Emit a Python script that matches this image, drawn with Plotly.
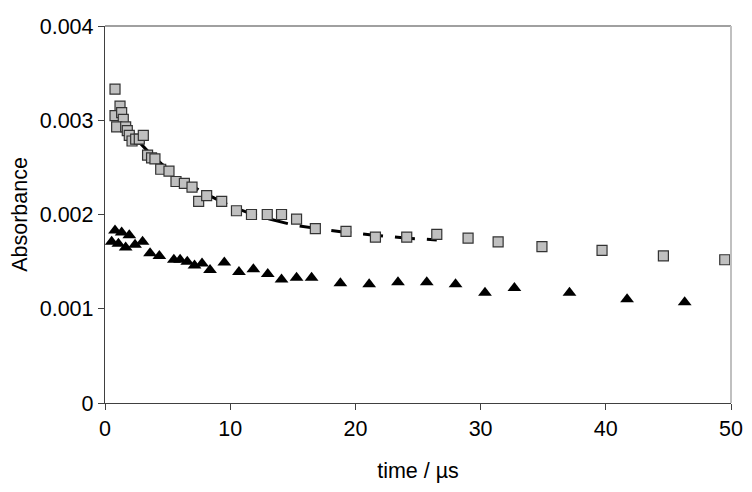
import plotly.graph_objects as go

# Squares (grey) series
sq_t = [0.8, 1.2, 0.8, 1.33, 1.46, 0.93, 1.65, 1.78, 1.94, 2.16, 2.45, 2.74, 3.06,
        3.4, 3.72, 3.99, 4.45, 5.11, 5.67, 6.34, 6.95, 7.48, 8.12, 9.32, 10.5,
        11.7, 12.96, 14.1, 15.3, 16.8, 19.25, 21.6, 24.1, 26.5, 29.0, 31.4,
        34.9, 39.7, 44.6, 49.5]
sq_a = [0.00333, 0.00315, 0.00305, 0.00308, 0.00301, 0.00293, 0.00293, 0.00289,
        0.00284, 0.00278, 0.00280, 0.00280, 0.00284, 0.00263, 0.00260, 0.00259,
        0.00248, 0.00246, 0.00235, 0.00233, 0.00229, 0.00214, 0.00220, 0.00214,
        0.00204, 0.00200, 0.00200, 0.00200, 0.00195, 0.00185, 0.00182, 0.00176,
        0.00176, 0.00179, 0.00175, 0.00171, 0.00166, 0.00162, 0.00156, 0.00152]

# Triangles (black) series
tr_t = [0.53, 0.8, 1.07, 1.33, 1.65, 1.94, 2.4, 3.0, 3.6, 4.34, 5.5, 6.0, 6.57,
        7.15, 7.75, 8.39, 9.53, 10.7, 11.85, 13.0, 14.1, 15.3, 16.5, 18.8, 21.1,
        23.4, 25.7, 28.0, 30.35, 32.7, 37.1, 41.7, 46.3]
tr_a = [0.00171, 0.00183, 0.00169, 0.00181, 0.00165, 0.00178, 0.00168, 0.00171,
        0.00159, 0.00156, 0.00152, 0.00152, 0.00150, 0.00146, 0.00148, 0.00141,
        0.00149, 0.00139, 0.00142, 0.00137, 0.00131, 0.00133, 0.00133, 0.00127,
        0.00126, 0.00128, 0.00128, 0.00126, 0.00117, 0.00122, 0.00117, 0.00110,
        0.00107]

# Fit curve (dashed)
fit_t = [0.8, 1.5, 2.5, 3.5, 4.5, 5.5, 6.5, 7.5, 8.5, 10.0, 12.0, 13.5, 15.0,
         17.0, 19.3, 21.5, 24.0, 26.5]
fit_a = [0.00310, 0.00297, 0.00280, 0.00266, 0.00254, 0.00243, 0.00234, 0.00226,
         0.00219, 0.00209, 0.00199, 0.00194, 0.00189, 0.00185, 0.00181, 0.00178,
         0.00175, 0.00173]

x_ticks = [0, 10, 20, 30, 40, 50]
y_ticks = [0, 0.001, 0.002, 0.003, 0.004]
y_labels = ["0", "0.001", "0.002", "0.003", "0.004"]

fig = go.Figure()
fig.add_trace(go.Scatter(x=fit_t, y=fit_a, mode="lines",
                         line=dict(color="black", width=3, dash="20px,12px"),
                         showlegend=False, hoverinfo="skip"))
fig.add_trace(go.Scatter(x=sq_t, y=sq_a, mode="markers",
                         marker=dict(symbol="square", size=10, color="#c0c0c0",
                                     line=dict(color="#333333", width=1.2)),
                         showlegend=False))
fig.add_trace(go.Scatter(x=tr_t, y=tr_a, mode="markers",
                         marker=dict(symbol="triangle-up", size=12, color="black",
                                     line=dict(width=0)),
                         showlegend=False))

font = dict(family="Liberation Sans, Arial, sans-serif", size=21.5, color="black")

fig.update_layout(
    width=744, height=484,
    margin=dict(l=97, r=21, t=18, b=89),
    paper_bgcolor="white", plot_bgcolor="white",
    font=font,
    xaxis=dict(range=[0, 50], tickvals=x_ticks, showgrid=False, zeroline=False,
               showline=True, linecolor="#404040", linewidth=1.3,
               ticks="outside", ticklen=6, tickcolor="#404040",
               tickfont=font, automargin=False,
               title=dict(text="time / µs", font=font, standoff=22)),
    yaxis=dict(range=[0, 0.004], tickvals=y_ticks, ticktext=y_labels,
               showgrid=False, zeroline=False,
               showline=True, linecolor="#404040", linewidth=1.3,
               ticks="outside", ticklen=6, tickcolor="#404040",
               tickfont=font, automargin=False,
               title=dict(text="Absorbance", font=font, standoff=6)),
    shapes=[
        dict(type="line", xref="paper", yref="paper", x0=0, x1=1, y0=1, y1=1,
             line=dict(color="#808080", width=1.3)),
        dict(type="line", xref="paper", yref="paper", x0=1, x1=1, y0=0, y1=1,
             line=dict(color="#c0c0c0", width=2)),
    ],
)

fig.write_html("out.html")
